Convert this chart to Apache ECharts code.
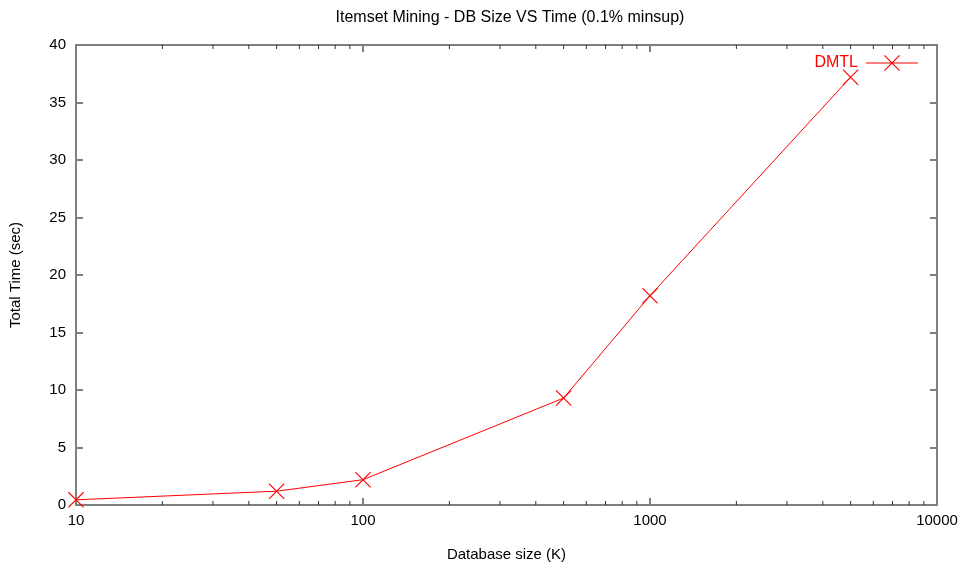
<!DOCTYPE html>
<html>
<head>
<meta charset="utf-8">
<script src="https://cdn.jsdelivr.net/npm/echarts@6/dist/echarts.min.js"></script>
<style>
html,body{margin:0;padding:0;background:#fff;}
#chart{width:962px;height:567px;}
</style>
</head>
<body>
<div id="chart"></div>
<script>
var dbSizes = [10, 50, 100, 500, 1000, 5000];
var totalTimes = [0.45, 1.2, 2.2, 9.3, 18.2, 37.2];
var seriesName = 'DMTL';
var xMajorTicks = [10, 100, 1000, 10000];
var xMinorTicks = [20, 30, 40, 50, 60, 70, 80, 90, 200, 300, 400, 500, 600, 700, 800, 900, 2000, 3000, 4000, 5000, 6000, 7000, 8000, 9000];
var yTicks = [0, 5, 10, 15, 20, 25, 30, 35, 40];

var FONT = 'Liberation Sans, Arial, sans-serif';
var AXIS = '#7f7f7f';
var RED = '#ff0000';

var xMarker = 'path://M0,0.8 L0.8,0 L16,15.2 L15.2,16 Z M0.8,16 L0,15.2 L15.2,0 L16,0.8 Z';
var legendIcon = 'path://M0,7.5 L52,7.5 L52,8.5 L0,8.5 Z M18,0.8 L18.8,0 L34,15.2 L33.2,16 Z M18.8,16 L18,15.2 L33.2,0 L34,0.8 Z';

var chart = echarts.init(document.getElementById('chart'), null, {renderer: 'canvas'});

var xAxisBase = {
  type: 'log',
  logBase: 10,
  min: xMajorTicks[0],
  max: xMajorTicks[xMajorTicks.length - 1],
  axisLine: {show: true, onZero: false, lineStyle: {color: AXIS, width: 2}},
  axisTick: {show: true, inside: true, length: 7, lineStyle: {color: AXIS, width: 2}},
  splitLine: {show: false},
  minorTick: {show: false}
};

var yAxisBase = {
  type: 'value',
  min: yTicks[0],
  max: yTicks[yTicks.length - 1],
  interval: yTicks[1] - yTicks[0],
  axisLine: {show: true, lineStyle: {color: AXIS, width: 2}},
  axisTick: {show: true, inside: true, length: 7, lineStyle: {color: AXIS, width: 2}},
  splitLine: {show: false}
};

var option = {
  backgroundColor: '#ffffff',
  animation: false,
  title: {
    text: 'Itemset Mining - DB Size VS Time (0.1% minsup)',
    left: 505,
    textAlign: 'center',
    top: 5,
    textStyle: {fontFamily: FONT, fontSize: 16, fontWeight: 'normal', color: '#000'}
  },
  legend: {
    show: true,
    right: 39,
    top: 50,
    align: 'right',
    itemWidth: 52,
    itemHeight: 16,
    icon: legendIcon,
    itemStyle: {color: RED},
    textStyle: {fontFamily: FONT, fontSize: 16, color: RED, padding: [0, 3, 0, 0]},
    data: [{name: seriesName, icon: legendIcon}]
  },
  grid: {left: 74, right: 25, top: 45, bottom: 59, containLabel: false},
  xAxis: [
    Object.assign({}, xAxisBase, {
      position: 'bottom',
      name: 'Database size (K)',
      nameLocation: 'middle',
      nameGap: 42,
      nameTextStyle: {fontFamily: FONT, fontSize: 15, color: '#000'},
      axisLabel: {show: true, margin: 8, fontFamily: FONT, fontSize: 15, color: '#000',
        formatter: function (v) { return String(Math.round(v)); }}
    }),
    Object.assign({}, xAxisBase, {
      position: 'top',
      axisLabel: {show: false}
    })
  ],
  yAxis: [
    Object.assign({}, yAxisBase, {
      position: 'left',
      name: 'Total Time (sec)',
      nameLocation: 'middle',
      nameGap: 53,
      nameTextStyle: {fontFamily: FONT, fontSize: 15, color: '#000'},
      axisLabel: {show: true, margin: 10, fontFamily: FONT, fontSize: 15, color: '#000'}
    }),
    Object.assign({}, yAxisBase, {
      position: 'right',
      axisLabel: {show: false}
    })
  ],
  series: [
    {
      name: 'minorTicks',
      type: 'custom',
      xAxisIndex: 0,
      yAxisIndex: 0,
      silent: true,
      legendHoverLink: false,
      clip: false,
      data: xMinorTicks.map(function (v) { return [v, yTicks[0]]; }),
      renderItem: function (params, api) {
        var v = api.value(0);
        var pb = api.coord([v, yTicks[0]]);
        var pt = api.coord([v, yTicks[yTicks.length - 1]]);
        var L = 4;
        return {
          type: 'group',
          children: [
            {type: 'line', shape: {x1: pb[0], y1: pb[1], x2: pb[0], y2: pb[1] - L}, style: {stroke: '#333', lineWidth: 1}},
            {type: 'line', shape: {x1: pt[0], y1: pt[1], x2: pt[0], y2: pt[1] + L}, style: {stroke: '#333', lineWidth: 1}}
          ]
        };
      }
    },
    {
      name: seriesName,
      type: 'line',
      xAxisIndex: 0,
      yAxisIndex: 0,
      data: dbSizes.map(function (x, i) { return [x, totalTimes[i]]; }),
      symbol: xMarker,
      symbolSize: 16,
      showAllSymbol: true,
      clip: false,
      lineStyle: {color: RED, width: 1},
      itemStyle: {color: RED},
      emphasis: {disabled: true}
    }
  ]
};

chart.setOption(option);
</script>
</body>
</html>
